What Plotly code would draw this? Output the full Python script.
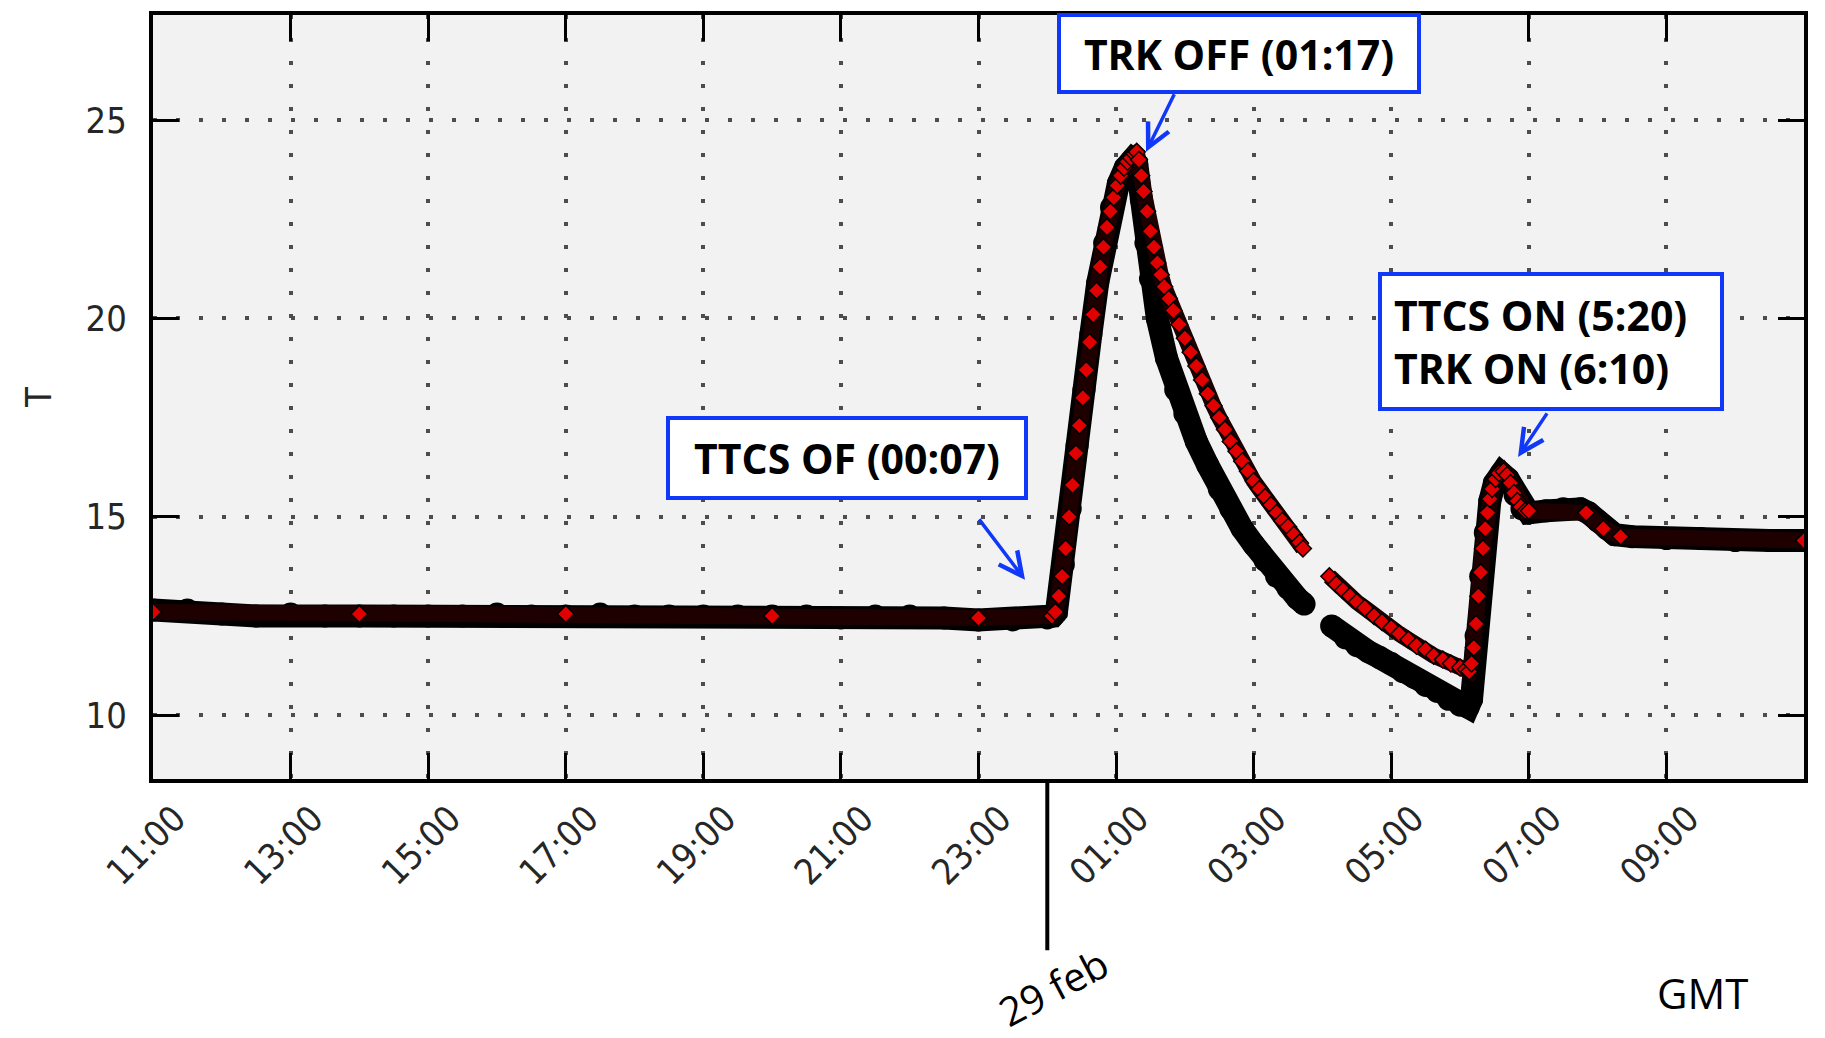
import plotly.graph_objects as go
from datetime import datetime, timedelta

# ---------------- data ----------------
# Sensor 1 (black circles) : times (GMT, 28 -> 29 feb) and temperatures
black_time = [
    "11:00", "11:30", "12:00", "12:30", "13:00", "13:30", "14:00", "14:30", "15:00", "15:30",
    "16:00", "16:30", "17:00", "17:30", "18:00", "18:30", "19:00", "19:30", "20:00", "20:30",
    "21:00", "21:30", "22:00", "22:30", "23:00", "23:30", "00:00", "00:05",
    "00:08", "00:14", "00:20", "00:26", "00:32", "00:38", "00:44", "00:50", "00:56", "01:02",
    "01:08", "01:14", "01:18", "01:22", "01:26", "01:30", "01:36", "01:44", "01:52", "02:00",
    "02:10", "02:20", "02:30", "02:40", "02:50", "03:00", "03:10", "03:20", "03:30", "03:38",
    "03:44", "03:55",
    "04:08", "04:20", "04:30", "04:40", "04:50", "05:00", "05:10", "05:20", "05:30", "05:40",
    "05:50", "06:00", "06:07", "06:10", "06:14", "06:18", "06:22", "06:26", "06:30", "06:36",
    "06:42", "06:48", "06:54", "07:00", "07:15", "07:30", "07:45", "07:52", "08:00", "08:08",
    "08:15", "08:30", "09:00", "09:30", "10:00", "10:30", "11:00",
]
black_temp = [
    12.65, 12.65, 12.55, 12.5, 12.55, 12.5, 12.5, 12.5, 12.5, 12.5,
    12.55, 12.5, 12.5, 12.55, 12.5, 12.5, 12.5, 12.5, 12.5, 12.5,
    12.45, 12.5, 12.5, 12.45, 12.4, 12.4, 12.45, 12.5,
    12.6, 13.8, 15.2, 16.8, 18.2, 19.6, 20.9, 21.9, 22.8, 23.4,
    23.8, 24.0, 23.9, 23.0, 21.9, 21.0, 20.0, 19.0, 18.2, 17.6,
    16.9, 16.3, 15.7, 15.2, 14.7, 14.3, 13.9, 13.5, 13.2, 12.95,
    12.8, None,
    12.25, 11.95, 11.75, 11.6, 11.45, 11.3, 11.1, 10.95, 10.75, 10.6,
    10.4, 10.25, 10.2, 10.4, 12.0, 13.5, 14.6, 15.4, 15.85, 16.1,
    15.95, 15.55, 15.2, 15.1, 15.15, 15.2, 15.2, 15.1, 14.9, 14.7,
    14.55, 14.5, 14.45, 14.45, 14.4, 14.4, 14.4,
]

# Sensor 2 (red markers with black edge)
red_time = [
    "11:00", "14:00", "17:00", "20:00", "23:00", "00:04",
    "00:07", "00:10", "00:13", "00:16", "00:19", "00:22", "00:25", "00:28", "00:31", "00:34",
    "00:37", "00:40", "00:43", "00:46", "00:49", "00:52", "00:55", "00:58", "01:01", "01:04",
    "01:07", "01:10", "01:13", "01:16", "01:18", "01:20", "01:22", "01:24", "01:27", "01:30",
    "01:33", "01:36", "01:39", "01:42", "01:46", "01:50", "01:55", "02:00", "02:05", "02:10",
    "02:15", "02:20", "02:25", "02:30", "02:35", "02:40", "02:45", "02:50", "02:55", "03:00",
    "03:05", "03:10", "03:15", "03:20", "03:25", "03:30", "03:35", "03:40", "03:43", "03:55",
    "04:06", "04:12", "04:18", "04:24", "04:30", "04:37", "04:45", "04:52", "05:00", "05:07",
    "05:15", "05:22", "05:30", "05:37", "05:45", "05:52", "06:00", "06:05", "06:08", "06:10",
    "06:12", "06:14", "06:16", "06:18", "06:20", "06:22", "06:24", "06:26", "06:28", "06:31",
    "06:34", "06:38", "06:41", "06:44", "06:47", "06:50", "06:53", "06:57", "07:00", "07:50",
    "08:05", "08:20", "11:00",
]
red_temp = [
    12.6, 12.55, 12.55, 12.5, 12.45, 12.5,
    12.6, 13.0, 13.5, 14.2, 15.0, 15.8, 16.6, 17.3, 18.0, 18.7,
    19.4, 20.1, 20.7, 21.3, 21.8, 22.3, 22.7, 23.05, 23.35, 23.6,
    23.8, 23.95, 24.05, 24.15, 24.2, 24.0, 23.6, 23.2, 22.7, 22.2,
    21.8, 21.4, 21.1, 20.8, 20.5, 20.2, 19.85, 19.5, 19.15, 18.8,
    18.45, 18.1, 17.8, 17.5, 17.2, 16.9, 16.65, 16.4, 16.15, 15.9,
    15.7, 15.5, 15.3, 15.1, 14.9, 14.75, 14.55, 14.35, 14.2, None,
    13.5, 13.3, 13.15, 13.0, 12.85, 12.7, 12.5, 12.35, 12.2, 12.05,
    11.9, 11.75, 11.65, 11.5, 11.4, 11.3, 11.2, 11.15, 11.1, 11.3,
    11.7, 12.3, 13.0, 13.6, 14.2, 14.7, 15.1, 15.45, 15.7, 15.95,
    16.1, 16.15, 16.05, 15.85, 15.6, 15.4, 15.25, 15.15, 15.15, 15.1,
    14.7, 14.5, 14.4,
]

y_ticks = [10, 15, 20, 25]
x_start = "2016-02-28 11:00"
x_end = "2016-02-29 11:00"
day_change = "2016-02-29 00:00"

# annotation texts and anchors (times, temperatures)
box_texts = ["<b>TRK OFF (01:17)</b>", "<b>TTCS OF (00:07)</b>",
             "<b>TTCS ON (5:20)<br>TRK ON (6:10)</b>"]
box_x = ["2016-02-29 02:47:13", "2016-02-28 21:05:20", "2016-02-29 07:19:23"]
box_y = [26.68, 16.48, 19.42]
arrow_x = ["2016-02-29 01:26:06", "2016-02-28 23:40:34", "2016-02-29 06:50:35"]
arrow_y = [24.2, 13.41, 16.51]


def to_dt(times):
    out, day, prev = [], datetime(2016, 2, 28), None
    for s in times:
        h, m = map(int, s.split(":"))
        if prev is not None and (h, m) < prev:
            day += timedelta(days=1)
        prev = (h, m)
        out.append(day + timedelta(hours=h, minutes=m))
    return out


BLUE = "#1038f8"
TICKFONT = dict(family="Liberation Sans Narrow, DejaVu Sans Condensed, Arial Narrow, sans-serif",
                size=36, color="#262626")

fig = go.Figure()
fig.add_trace(go.Scatter(
    x=to_dt(black_time), y=black_temp, mode="lines+markers", connectgaps=False,
    line=dict(color="black", width=23),
    marker=dict(symbol="circle", size=23, color="black"),
    showlegend=False, hoverinfo="skip"))
fig.add_trace(go.Scatter(
    x=to_dt(red_time), y=red_temp, mode="lines+markers", connectgaps=False,
    line=dict(color="#1e0000", width=16),
    marker=dict(symbol="diamond", size=13, color="#e00000",
                line=dict(color="black", width=1.5)),
    showlegend=False, hoverinfo="skip"))

axis_common = dict(
    showline=True, linecolor="black", linewidth=4, mirror="ticks",
    ticks="inside", ticklen=26, tickwidth=3, tickcolor="black",
    showgrid=True, gridcolor="#4d4d4d", gridwidth=4, griddash="4px,19px",
    zeroline=False, tickfont=TICKFONT,
)

fig.update_xaxes(
    type="date", range=[x_start, x_end], tick0=x_start, dtick=2 * 3600 * 1000,
    tickformat="%H:%M", tickangle=-45, ticklabelshift=22, ticklabelstandoff=0,
    **axis_common)
fig.update_yaxes(
    range=[8.39, 27.65], tickvals=y_ticks, ticklabelstandoff=15,
    title=dict(text="T", font=TICKFONT, standoff=24),
    **axis_common)

# vertical day-change marker below the axis
fig.add_shape(type="line", xref="x", yref="paper", x0=day_change, x1=day_change,
              y0=0, y1=-0.224, line=dict(color="black", width=4))

box_w = [356, 354, 314]
box_h = [73, 76, 107]
box_pad = [0, 0, 12]
box_align = ["center", "center", "left"]
for t, bx, by, w, h, p, al in zip(box_texts, box_x, box_y, box_w, box_h, box_pad, box_align):
    fig.add_annotation(x=bx, y=by, xref="x", yref="y", text=t, showarrow=False,
                       font=dict(family="Open Sans", size=41, color="black"),
                       bgcolor="white", bordercolor=BLUE, borderwidth=4, borderpad=p,
                       width=w, height=h, align=al, valign="middle")

arrow_ax = [29, -47, 30]
arrow_ay = [-59, -62, -45]
for hx, hy, ax, ay in zip(arrow_x, arrow_y, arrow_ax, arrow_ay):
    fig.add_annotation(x=hx, y=hy, xref="x", yref="y", text="", showarrow=True,
                       ax=ax, ay=ay, arrowhead=5, arrowsize=1.3, arrowwidth=3.5,
                       arrowcolor=BLUE, standoff=0)

fig.add_annotation(x=0.5457, y=-0.272, xref="paper", yref="paper", text="29 feb",
                   showarrow=False, textangle=-28, xanchor="center", yanchor="middle",
                   font=dict(family="Open Sans", size=40, color="black"))
fig.add_annotation(x=0.9388, y=-0.280, xref="paper", yref="paper", text="GMT",
                   showarrow=False, xanchor="center", yanchor="middle",
                   font=dict(family="Open Sans", size=42, color="black"))

fig.update_layout(
    width=1825, height=1038, autosize=False,
    margin=dict(l=153, r=21, t=15, b=259),
    plot_bgcolor="#f2f2f2", paper_bgcolor="white",
)

# remove the default page margin so the figure starts at the window corner
page_fix = (
    "document.body.style.margin='0';"
    "document.body.style.overflow='hidden';"
)
fig.write_html("out.html", post_script=page_fix, config={"displayModeBar": False})
